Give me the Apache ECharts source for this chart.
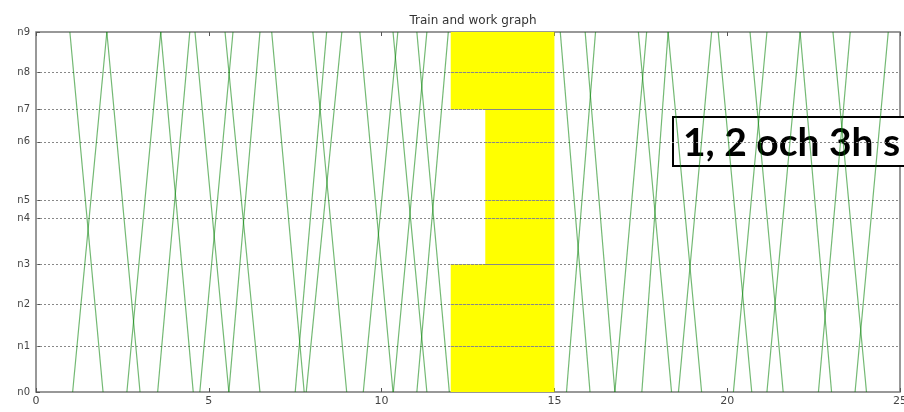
<!DOCTYPE html>
<html><head><meta charset="utf-8">
<script src="https://cdn.jsdelivr.net/npm/echarts@6/dist/echarts.min.js"></script>
<style>html,body{margin:0;padding:0;background:#fff}#c{width:904px;height:412px}</style>
</head><body><div id="c"></div>
<script>
// Stations (y) and their positions along the line
const stationNames = ['n0','n1','n2','n3','n4','n5','n6','n7','n8','n9'];
const stationPos = [0, 12.8, 24.4, 35.5, 48.3, 53.3, 69.5, 78.5, 88.9, 100];
const xTicks = [0, 5, 10, 15, 20, 25];

// Down trains: leave n9 at downStart, reach n0 at downEnd (hours)
const downStart = [0.98, 2.05, 3.61, 4.60, 5.47, 6.82, 8.01, 9.37, 10.33, 11.02, 15.17, 15.89, 17.43, 18.29, 19.74, 20.66, 22.11, 23.06];
const downEnd   = [1.94, 3.01, 4.55, 5.58, 6.48, 7.76, 8.99, 10.33, 11.31, 11.96, 16.03, 16.75, 18.39, 19.26, 20.71, 21.62, 23.02, 24.03];
// Up trains: leave n0 at upStart, reach n9 at upEnd (hours)
const upStart = [1.06, 2.63, 3.52, 4.74, 5.58, 7.50, 7.82, 9.47, 10.34, 11.02, 15.35, 16.75, 17.53, 18.59, 20.18, 21.15, 22.64, 23.70];
const upEnd   = [2.05, 3.61, 4.45, 5.70, 6.48, 8.41, 8.85, 10.47, 11.31, 11.93, 16.19, 17.67, 18.29, 19.55, 21.15, 22.11, 23.56, 24.66];

// Work (possession) blocks
const workFrom = [12, 13, 12];
const workTo   = [15, 15, 15];
const workLow  = ['n0', 'n3', 'n7'];
const workHigh = ['n3', 'n7', 'n9'];

const titleText = 'Train and work graph';
const noteText = '1, 2 och 3h s';

const posOf = n => stationPos[stationNames.indexOf(n)];
const n0 = stationPos[0], n9 = stationPos[stationPos.length - 1];
const innerStations = stationPos.slice(1, -1);

const trainStyle = { color: 'rgba(0,128,0,0.55)', width: 1.2 };
const dotStyle = { stroke: '#888', lineWidth: 1, lineDash: [2, 2] };
const series = [];

// work blocks, each with the station grid dots painted over it
series.push({
  type: 'custom', z: 1, silent: true, animation: false,
  data: workFrom.map((f, i) => [f, workTo[i], posOf(workLow[i]), posOf(workHigh[i])]),
  encode: { x: [0, 1], y: [2, 3] },
  renderItem: (params, api) => {
    const x0 = api.value(0), x1 = api.value(1), lo = api.value(2), hi = api.value(3);
    const p1 = api.coord([x0, hi]);
    const p2 = api.coord([x1, lo]);
    const children = [{ type: 'rect', z2: 0,
      shape: { x: p1[0], y: p1[1], width: p2[0] - p1[0], height: p2[1] - p1[1] },
      style: { fill: '#ffff00' } }];
    innerStations.filter(v => v >= lo && v <= hi).forEach(v => {
      const y = Math.round(api.coord([x0, v])[1]) + 0.5;
      children.push({ type: 'line', z2: 5, shape: { x1: p1[0], y1: y, x2: p2[0], y2: y }, style: dotStyle });
    });
    return { type: 'group', children: children };
  }
});

// dotted station grid lines
series.push({
  type: 'custom', z: 2, silent: true, animation: false,
  data: innerStations.map(v => [0, 25, v]),
  encode: { x: [0, 1], y: 2 },
  renderItem: (params, api) => {
    const a = api.coord([api.value(0), api.value(2)]);
    const b = api.coord([api.value(1), api.value(2)]);
    const y = Math.round(a[1]) + 0.5;
    return { type: 'line', shape: { x1: a[0], y1: y, x2: b[0], y2: y }, style: dotStyle };
  }
});

downStart.forEach((s, i) => {
  series.push({ type: 'line', z: 3, silent: true, symbol: 'none', animation: false,
    lineStyle: trainStyle, data: [[s, n9], [downEnd[i], n0]] });
});
upStart.forEach((s, i) => {
  series.push({ type: 'line', z: 3, silent: true, symbol: 'none', animation: false,
    lineStyle: trainStyle, data: [[s, n0], [upEnd[i], n9]] });
});

const chart = echarts.init(document.getElementById('c'), null, { renderer: 'canvas' });
chart.setOption({
  animation: false,
  backgroundColor: '#fff',
  title: {
    text: titleText, left: 468, top: 10, textAlign: 'center',
    textStyle: { fontFamily: 'DejaVu Sans', fontSize: 12, fontWeight: 'normal', color: '#333' }
  },
  grid: { left: 36, right: 4, top: 32, bottom: 20, outerBoundsMode: 'none', containLabel: false,
    show: true, borderColor: '#777', borderWidth: 1.5, backgroundColor: 'transparent' },
  xAxis: [{
    type: 'value', min: 0, max: 25, interval: 5,
    axisLine: { show: false },
    axisTick: { show: true, inside: true, length: 4, lineStyle: { color: '#555' } },
    axisLabel: { fontFamily: 'DejaVu Sans', fontSize: 11, color: '#444', margin: 4,
      customValues: xTicks },
    splitLine: { show: false }
  }, {
    type: 'value', min: 0, max: 25, interval: 5, position: 'top',
    axisLine: { show: false },
    axisTick: { show: true, inside: true, length: 4, lineStyle: { color: '#555' } },
    axisLabel: { show: false }, splitLine: { show: false }
  }],
  yAxis: {
    type: 'value', min: 0, max: 100,
    axisLine: { show: false },
    axisTick: { show: true, inside: true, length: 4, customValues: stationPos, lineStyle: { color: '#555' } },
    axisLabel: { fontFamily: 'DejaVu Sans', fontSize: 10, color: '#444', margin: 6,
      customValues: stationPos,
      formatter: v => { const k = stationPos.indexOf(v); return k >= 0 ? stationNames[k] : ''; } },
    splitLine: { show: false }
  },
  series: series,
  graphic: [{
    type: 'group', left: 672, top: 116, z: 100,
    children: [
      { type: 'rect', shape: { x: 0, y: 0, width: 250, height: 49 },
        style: { fill: '#fff', stroke: '#000', lineWidth: 2 } },
      { type: 'text', x: 10, y: 26,
        style: { text: noteText, fill: '#000', font: 'bold 39px Lato', textVerticalAlign: 'middle', verticalAlign: 'middle' } }
    ]
  }]
});
</script></body></html>
